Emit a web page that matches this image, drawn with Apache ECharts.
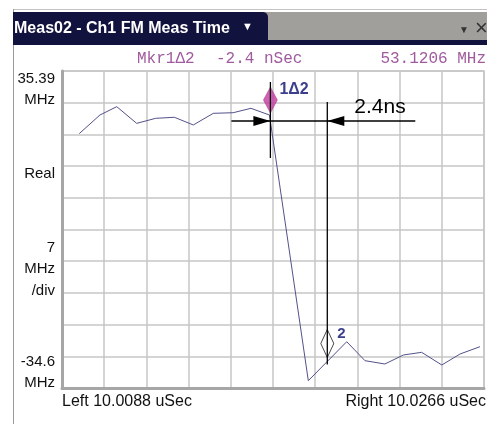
<!DOCTYPE html>
<html><head><meta charset="utf-8">
<script src="https://cdn.jsdelivr.net/npm/echarts@6/dist/echarts.min.js"></script>
<style>html,body{margin:0;padding:0;background:#fff;}#c{width:487px;height:424px;}</style>
</head><body><div id="c"></div>
<script>
// Trace: time (ns) vs FM deviation (MHz)
var timeNs = [10009.53, 10010.40, 10011.11, 10011.95, 10012.75, 10013.54, 10014.34, 10015.18, 10016.02, 10016.77,
              10017.55, 10019.19, 10020.81, 10021.58, 10022.42, 10023.20, 10023.97, 10024.82, 10025.59, 10026.43];
var freqMHz = [21.57, 25.67, 27.51, 23.83, 24.94, 25.17, 23.47, 26.04, 26.18, 27.15,
               25.67, -33.0, -24.39, -28.58, -29.31, -27.32, -26.73, -29.53, -27.10, -25.49];
var marker1 = [10017.59, 24.35];
var marker2 = [10019.99, -28.77];
var xRange = [10008.8, 10026.6];
var yRange = [-34.61, 35.39];
var titleText = 'Meas02 - Ch1 FM Meas Time';
var readoutName = 'Mkr1\u03942';
var readoutTime = '-2.4 nSec';
var readoutValue = '53.1206 MHz';
var leftLabels = ['35.39', 'MHz', 'Real', '7', 'MHz', '/div', '-34.6', 'MHz'];
var bottomLeft = 'Left 10.0088 uSec';
var bottomRight = 'Right 10.0266 uSec';
var deltaText = '2.4ns';
var mkr1Label = '1\u03942';
var mkr2Label = '2';

var trace = timeNs.map(function(t, i){ return [t, freqMHz[i]]; });
var chart = echarts.init(document.getElementById('c'), null, {renderer: 'canvas'});
var SANS = '"Liberation Sans", Arial, sans-serif';
var MONO = '16px "Liberation Mono", monospace';
var leftY = [79, 100, 174, 248, 269, 291, 362, 383];

var graphics = [
  {type: 'line', shape: {x1: 13, y1: 9.5, x2: 487, y2: 9.5}, style: {stroke: '#c4c4c4', lineWidth: 1}},
  {type: 'line', shape: {x1: 13.5, y1: 9, x2: 13.5, y2: 424}, style: {stroke: '#9a9a9a', lineWidth: 1}},
  {type: 'rect', shape: {x: 265, y: 12, width: 222, height: 28}, style: {fill: '#a19f9c'}},
  {type: 'rect', shape: {x: 13, y: 40, width: 474, height: 5}, style: {fill: '#12123f'}},
  {type: 'rect', shape: {x: 13, y: 12, width: 255, height: 33, r: [0, 5, 0, 0]}, style: {fill: '#12123f'}},
  {type: 'text', x: 14, y: 29, style: {text: titleText, fill: '#ffffff', font: 'bold 16px ' + SANS, textVerticalAlign: 'middle'}},
  {type: 'text', x: 242, y: 27, style: {text: '\u25BC', fill: '#ffffff', font: '11px ' + SANS, textVerticalAlign: 'middle'}},
  {type: 'text', x: 459, y: 30, style: {text: '\u25BC', fill: '#333333', font: '10px ' + SANS, textVerticalAlign: 'middle'}},
  {type: 'text', x: 475, y: 29, style: {text: '\u00D7', fill: '#333333', font: '22px ' + SANS, textVerticalAlign: 'middle'}},
  {type: 'text', x: 137, y: 59, style: {text: readoutName, fill: '#a05a9e', font: MONO, textVerticalAlign: 'middle'}},
  {type: 'text', x: 216, y: 59, style: {text: readoutTime, fill: '#a05a9e', font: MONO, textVerticalAlign: 'middle'}},
  {type: 'text', x: 486, y: 59, style: {text: readoutValue, fill: '#a05a9e', font: MONO, textAlign: 'right', textVerticalAlign: 'middle'}},
  {type: 'text', x: 62, y: 402, style: {text: bottomLeft, fill: '#111', font: '16px ' + SANS, textVerticalAlign: 'middle'}},
  {type: 'text', x: 486, y: 402, style: {text: bottomRight, fill: '#111', font: '16px ' + SANS, textAlign: 'right', textVerticalAlign: 'middle'}}
];
leftLabels.forEach(function(s, i){
  graphics.push({type: 'text', x: 55, y: leftY[i], style: {text: s, fill: '#111', font: '15px ' + SANS, textAlign: 'right', textVerticalAlign: 'middle'}});
});

var gridLine = {show: true, lineStyle: {color: '#c6c6c6', width: 1.5}};
var option = {
  animation: false,
  backgroundColor: '#ffffff',
  grid: {left: 62, top: 71, width: 422, height: 317, show: true, borderColor: '#c6c6c6', borderWidth: 1.5, backgroundColor: '#fff'},
  xAxis: [
    {type: 'value', min: xRange[0], max: xRange[1], show: false},
    {type: 'value', min: 0, max: 10, interval: 1, position: 'bottom',
     axisLine: {show: true, onZero: false, lineStyle: {color: '#a6a6a6', width: 3}},
     axisTick: {show: false}, axisLabel: {show: false}, splitLine: gridLine}
  ],
  yAxis: [
    {type: 'value', min: yRange[0], max: yRange[1], show: false},
    {type: 'value', min: 0, max: 10, interval: 1, position: 'left',
     axisLine: {show: true, onZero: false, lineStyle: {color: '#a6a6a6', width: 3}},
     axisTick: {show: false}, axisLabel: {show: false}, splitLine: gridLine}
  ],
  graphic: graphics,
  series: [
    {type: 'line', xAxisIndex: 0, yAxisIndex: 0, data: trace, symbol: 'none', z: 3,
     lineStyle: {color: '#52528a', width: 1}},
    {type: 'scatter', xAxisIndex: 0, yAxisIndex: 0, data: [marker1], symbol: 'diamond',
     symbolSize: [14, 26], symbolOffset: [0, -21], z: 5,
     itemStyle: {color: '#c23a9e', borderColor: '#9a2a80', borderWidth: 0.5}},
    {type: 'scatter', xAxisIndex: 0, yAxisIndex: 0, data: [marker2], symbol: 'diamond',
     symbolSize: [13, 28], symbolOffset: [0, -18], z: 5,
     itemStyle: {color: 'rgba(255,255,255,0)', borderColor: '#111', borderWidth: 1}},
    {type: 'custom', xAxisIndex: 0, yAxisIndex: 0, z: 6, clip: false,
     data: [[marker1[0], marker1[1], marker2[0], marker2[1]]],
     renderItem: function(params, api){
       var p1 = api.coord([api.value(0), api.value(1)]);
       var p2 = api.coord([api.value(2), api.value(3)]);
       var ln = {stroke: '#000', lineWidth: 1.3};
       return {type: 'group', children: [
         {type: 'line', shape: {x1: p1[0], y1: p1[1] - 39, x2: p1[0], y2: p1[1] + 37}, style: ln},
         {type: 'line', shape: {x1: p1[0] - 39, y1: p1[1], x2: p2[0] + 88, y2: p1[1]}, style: ln},
         {type: 'line', shape: {x1: p2[0], y1: p1[1] - 19, x2: p2[0], y2: p2[1] + 3}, style: ln},
         {type: 'polygon', shape: {points: [[p1[0], p1[1]], [p1[0] - 17, p1[1] - 5], [p1[0] - 17, p1[1] + 5]]}, style: {fill: '#000'}},
         {type: 'polygon', shape: {points: [[p2[0], p1[1]], [p2[0] + 17, p1[1] - 5], [p2[0] + 17, p1[1] + 5]]}, style: {fill: '#000'}},
         {type: 'text', x: p2[0] + 27, y: p1[1] - 3, style: {text: deltaText, fill: '#000', font: '21px ' + SANS, textVerticalAlign: 'bottom'}},
         {type: 'text', x: p1[0] + 9, y: p1[1] - 31, style: {text: mkr1Label, fill: '#3b3f8c', font: 'bold 16px ' + SANS, textVerticalAlign: 'middle'}},
         {type: 'text', x: p2[0] + 10, y: p2[1] - 28, style: {text: mkr2Label, fill: '#3b3f8c', font: 'bold 15px ' + SANS, textVerticalAlign: 'middle'}}
       ]};
     }}
  ]
};
chart.setOption(option);
</script></body></html>
